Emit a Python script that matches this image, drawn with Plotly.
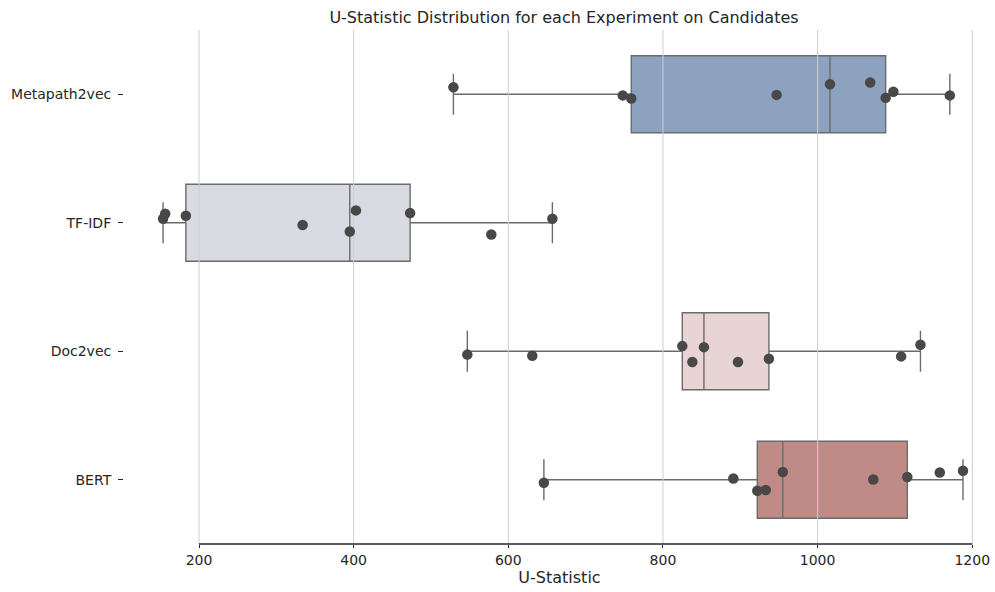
import numpy as np
import plotly.graph_objects as go

# Experiments (top to bottom) and their U-statistics on candidates
experiments = ["Metapath2vec", "TF-IDF", "Doc2vec", "BERT"]

u_metapath2vec = [529, 748, 759, 947, 1016, 1068, 1088, 1098, 1171]
u_tfidf = [153.5, 156.3, 183, 334, 395, 403, 473, 578, 657]
u_doc2vec = [547, 631, 825, 838, 853, 897, 937, 1108, 1133]
u_bert = [646, 891, 922, 933, 955, 1072, 1116, 1158, 1188]

# Vertical strip-plot jitter of each point (in category units)
jit_metapath2vec = [-0.055, 0.009, 0.033, 0.005, -0.078, -0.092, 0.028, -0.019, 0.009]
jit_tfidf = [-0.031, -0.070, -0.054, 0.018, 0.068, -0.096, -0.075, 0.091, -0.031]
jit_doc2vec = [0.026, 0.035, -0.040, 0.083, -0.032, 0.083, 0.059, 0.040, -0.051]
jit_bert = [0.023, -0.010, 0.085, 0.080, -0.060, -0.002, -0.021, -0.057, -0.070]

x_ticks = [200, 400, 600, 800, 1000, 1200]

values = [u_metapath2vec, u_tfidf, u_doc2vec, u_bert]
jitters = [jit_metapath2vec, jit_tfidf, jit_doc2vec, jit_bert]
box_colors = ["#8ca2bf", "#d8dbe2", "#e8d4d4", "#c08b87"]

EDGE = "#6b6b6b"
DOT = "#484848"
TEXT = "#262626"
FONT = "DejaVu Sans"

fig = go.Figure()

# Boxes: quartiles from the samples, whiskers spanning the full range
for i, (name, vals, col) in enumerate(zip(experiments, values, box_colors)):
    q1, med, q3 = np.percentile(vals, [25, 50, 75])
    fig.add_trace(go.Box(
        y=[i], q1=[q1], median=[med], q3=[q3],
        lowerfence=[min(vals)], upperfence=[max(vals)],
        orientation="h", width=0.6, whiskerwidth=0.53,
        fillcolor=col, line=dict(color=EDGE, width=1.4),
        name=name, showlegend=False, hoverinfo="skip",
    ))

# Vertical grid drawn over the boxes but under the points
gx, gy = [], []
for t in x_ticks:
    gx += [t, t, None]
    gy += [-0.5, 3.5, None]
fig.add_trace(go.Scatter(
    x=gx, y=gy, mode="lines", line=dict(color="#cfcfcf", width=1),
    showlegend=False, hoverinfo="skip",
))

# Individual experiment points
for i, (name, vals, jit) in enumerate(zip(experiments, values, jitters)):
    fig.add_trace(go.Scatter(
        x=vals, y=[i + j for j in jit], mode="markers",
        marker=dict(color=DOT, size=10.5, line=dict(width=0)),
        name=name, showlegend=False,
    ))

# Bottom spine trimmed to the outer ticks
fig.add_shape(type="line", xref="x", yref="paper",
              x0=x_ticks[0], x1=x_ticks[-1], y0=0, y1=0,
              line=dict(color=TEXT, width=1.3))

fig.update_layout(
    width=995, height=592,
    margin=dict(l=124, r=0, t=30, b=48),
    paper_bgcolor="white", plot_bgcolor="white",
    font=dict(family=FONT, size=14, color=TEXT),
    title=dict(
        text="U-Statistic Distribution for each Experiment on Candidates",
        x=564 / 995, xref="container", xanchor="center",
        y=1 - 17 / 592, yref="container", yanchor="middle",
        font=dict(family=FONT, size=16, color=TEXT),
    ),
    xaxis=dict(
        range=[103.0, 1229.4], tickvals=x_ticks,
        ticktext=[str(t) for t in x_ticks],
        showgrid=False, zeroline=False, showline=False,
        ticks="outside", ticklen=3, tickwidth=1, tickcolor=TEXT,
        tickfont=dict(family=FONT, size=14, color=TEXT),
        title=dict(text="U-Statistic", standoff=4,
                   font=dict(family=FONT, size=16, color=TEXT)),
    ),
    yaxis=dict(
        range=[3.5, -0.5], tickvals=list(range(len(experiments))),
        ticktext=experiments,
        showgrid=False, zeroline=False, showline=False,
        ticks="outside", ticklen=5, tickwidth=1, tickcolor=TEXT,
        ticklabelstandoff=4,
        tickfont=dict(family=FONT, size=14, color=TEXT),
    ),
)

fig.write_html("out.html")
